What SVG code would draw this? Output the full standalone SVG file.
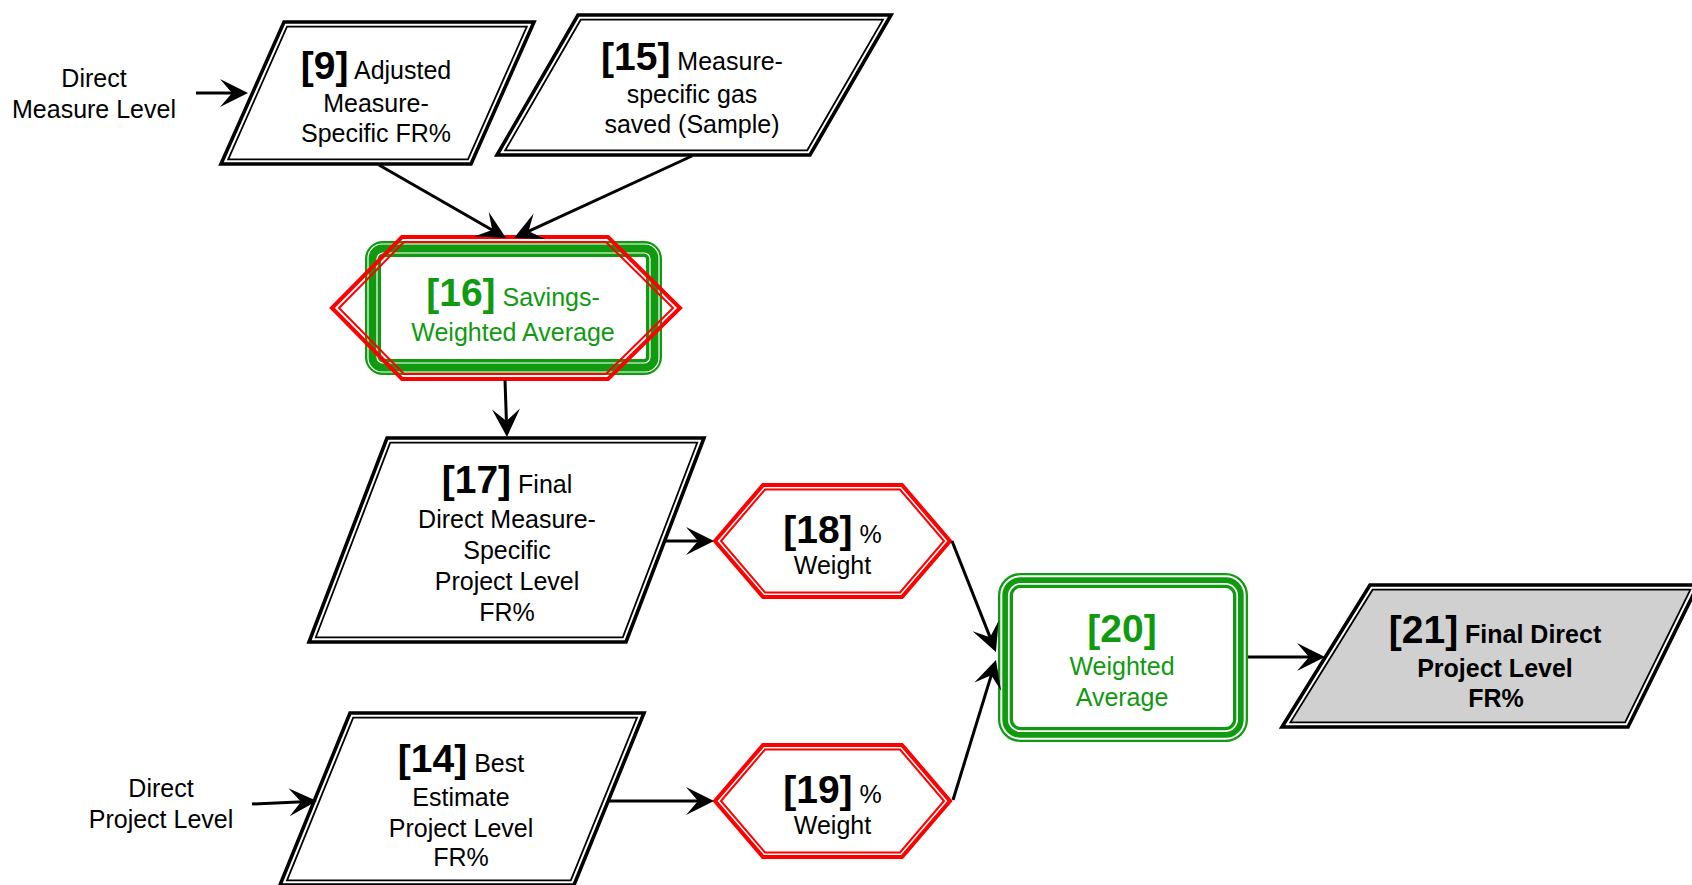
<svg xmlns="http://www.w3.org/2000/svg" width="1692" height="885" viewBox="0 0 1692 885">
<defs>
<style>
.t{font-family:"Liberation Sans",Arial,Helvetica,sans-serif;font-size:25px;fill:#000;text-anchor:middle}
.n{font-size:39px;font-weight:bold}
.gt{fill:#109a10}
.bd{font-weight:bold}
.po{fill:#fff;stroke:#000;stroke-width:3.6}
.pi{fill:none;stroke:#000;stroke-width:1.8}
.ho{fill:none;stroke:#f00;stroke-width:4}
.hi{fill:none;stroke:#f00;stroke-width:2}
.gb{fill:none;stroke:#109a10}
.wl{fill:none;stroke:#fff}
.c{fill:none;stroke:#000;stroke-width:3}
</style>
<marker id="ah" markerUnits="userSpaceOnUse" viewBox="-21 -15 30 30" markerWidth="30" markerHeight="30" refX="0" refY="0" orient="auto" overflow="visible">
<path d="M8,0 L-20,-14 L-8,0 L-20,14 Z" fill="#000"/>
</marker>
</defs>
<rect x="0" y="0" width="1692" height="885" fill="#fff"/>

<!-- free-standing input labels -->
<g id="in-measure">
<text class="t" x="94" y="87">Direct</text>
<text class="t" x="94" y="118">Measure Level</text>
</g>
<g id="in-project">
<text class="t" x="161" y="797">Direct</text>
<text class="t" x="161" y="828">Project Level</text>
</g>

<!-- [9] data parallelogram -->
<g id="n9">
<polygon class="po" points="284,22 534,22 471,164 221,164"/>
<polygon class="pi" points="287,26.7 526.8,26.7 468,159.3 228.2,159.3"/>
<text class="t" x="376" y="79"><tspan class="n">[9]</tspan> Adjusted</text>
<text class="t" x="376" y="112">Measure-</text>
<text class="t" x="376" y="142">Specific FR%</text>
</g>

<!-- [15] data parallelogram -->
<g id="n15">
<polygon class="po" points="578,15 891,15 810,155 497,155"/>
<polygon class="pi" points="580.7,19.7 882.9,19.7 807.3,150.3 505.2,150.3"/>
<text class="t" x="692" y="70"><tspan class="n">[15]</tspan> Measure-</text>
<text class="t" x="692" y="103">specific gas</text>
<text class="t" x="692" y="133">saved (Sample)</text>
</g>

<!-- [16] savings-weighted average -->
<g id="n16">
<rect class="gb" x="373" y="249" width="281" height="118" rx="10" stroke-width="16"/>
<rect class="wl" x="368" y="244" width="291" height="128" rx="14" stroke-width="1.2"/>
<rect class="wl" x="377" y="253" width="273" height="110" rx="6" stroke-width="1.2"/>
<polygon class="ho" points="332,308 402,237 608,237 680,308 608,379 402,379"/>
<polygon class="hi" points="339,308 404,242 606,242 673,308 606,374 404,374"/>
<text class="t gt" x="513" y="306"><tspan class="n">[16]</tspan> Savings-</text>
<text class="t gt" x="513" y="341">Weighted Average</text>
</g>

<!-- [17] data parallelogram -->
<g id="n17">
<polygon class="po" points="387,438 704,438 626,642 309,642"/>
<polygon class="pi" points="390.2,442.7 697.2,442.7 622.8,637.3 315.8,637.3"/>
<text class="t" x="507" y="493"><tspan class="n">[17]</tspan> Final</text>
<text class="t" x="507" y="528">Direct Measure-</text>
<text class="t" x="507" y="559">Specific</text>
<text class="t" x="507" y="590">Project Level</text>
<text class="t" x="507" y="621">FR%</text>
</g>

<!-- [18] weight hexagon -->
<g id="n18">
<polygon class="ho" points="715,541 763,485 902,485 950,541 902,597 763,597"/>
<polygon class="hi" points="721,541 765,489.5 900,489.5 944,541 900,592.5 765,592.5"/>
<text class="t" x="832.5" y="543"><tspan class="n">[18]</tspan> %</text>
<text class="t" x="832.5" y="574">Weight</text>
</g>

<!-- [14] data parallelogram -->
<g id="n14">
<polygon class="po" points="350,713 644,713 574,885 280,885"/>
<polygon class="pi" points="353.2,717.7 637,717.7 570.8,880.3 287,880.3"/>
<text class="t" x="461" y="772"><tspan class="n">[14]</tspan> Best</text>
<text class="t" x="461" y="806">Estimate</text>
<text class="t" x="461" y="837">Project Level</text>
<text class="t" x="461" y="866">FR%</text>
</g>

<!-- [19] weight hexagon -->
<g id="n19">
<polygon class="ho" points="715,801 763,745 902,745 950,801 902,857 763,857"/>
<polygon class="hi" points="721,801 765,749.5 900,749.5 944,801 900,852.5 765,852.5"/>
<text class="t" x="832.5" y="803"><tspan class="n">[19]</tspan> %</text>
<text class="t" x="832.5" y="834">Weight</text>
</g>

<!-- [20] weighted average -->
<g id="n20">
<rect class="gb" x="1005.5" y="580.5" width="235" height="154" rx="15" stroke-width="15"/>
<rect class="wl" x="1001.3" y="576.3" width="243.4" height="162.4" rx="19" stroke-width="2"/>
<rect class="wl" x="1008.8" y="583.8" width="228.4" height="147.4" rx="12" stroke-width="1.7"/>
<text class="t gt" x="1122" y="642"><tspan class="n">[20]</tspan></text>
<text class="t gt" x="1122" y="675">Weighted</text>
<text class="t gt" x="1122" y="706">Average</text>
</g>

<!-- [21] final output parallelogram -->
<g id="n21">
<polygon class="po" points="1370,585 1698,585 1628,727 1282,727"/>
<polygon class="pi" points="1372.6,589.7 1690.4,589.7 1625.1,722.3 1290.4,722.3" style="fill:#d0d0d0"/>
<text class="t bd" x="1495" y="643"><tspan class="n">[21]</tspan> Final Direct</text>
<text class="t bd" x="1495" y="677">Project Level</text>
<text class="t bd" x="1496" y="707">FR%</text>
</g>

<!-- connectors -->
<g id="connectors">
<line class="c" x1="196" y1="93" x2="240" y2="93" marker-end="url(#ah)"/>
<line class="c" x1="379" y1="165" x2="499.1" y2="234" marker-end="url(#ah)"/>
<line class="c" x1="692" y1="156" x2="521.3" y2="234.7" marker-end="url(#ah)"/>
<line class="c" x1="505" y1="380" x2="506.7" y2="429" marker-end="url(#ah)"/>
<line class="c" x1="664" y1="541" x2="706" y2="541" marker-end="url(#ah)"/>
<line class="c" x1="952" y1="541" x2="993" y2="644.6" marker-end="url(#ah)"/>
<line class="c" x1="953" y1="800" x2="993.6" y2="667.6" marker-end="url(#ah)"/>
<line class="c" x1="1248" y1="657" x2="1317" y2="657" marker-end="url(#ah)"/>
<line class="c" x1="252" y1="804" x2="309" y2="801.4" marker-end="url(#ah)"/>
<line class="c" x1="607" y1="801" x2="706" y2="801" marker-end="url(#ah)"/>
</g>
</svg>
